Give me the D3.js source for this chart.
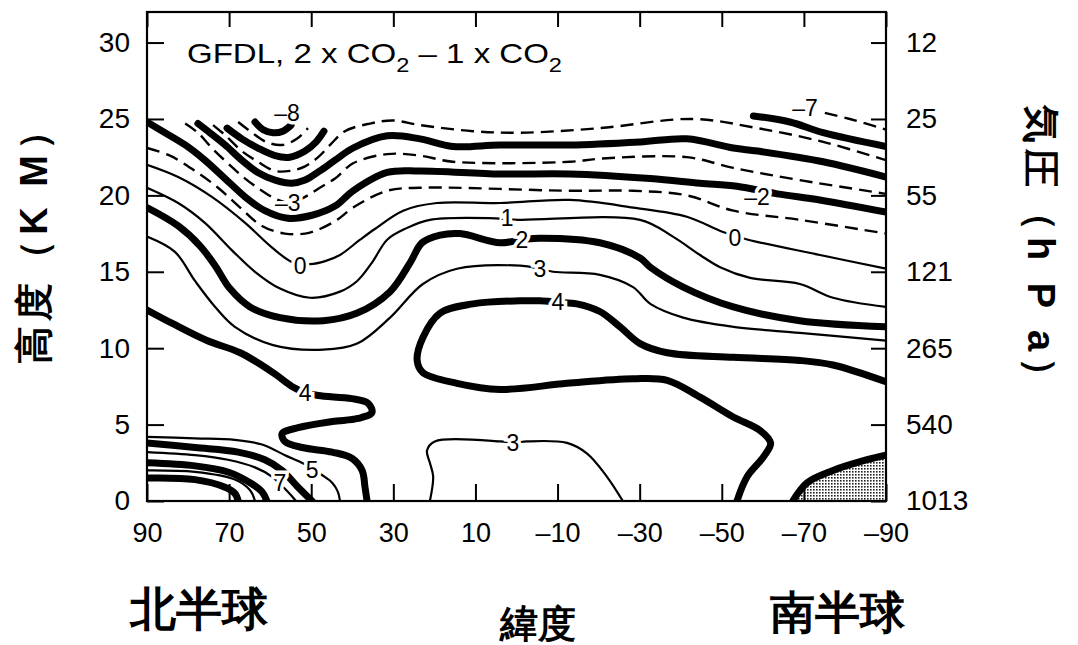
<!DOCTYPE html>
<html>
<head>
<meta charset="utf-8">
<script src="https://cdn.jsdelivr.net/npm/d3@7"></script>
<style>
  body { margin: 0; background: #fff; }
  svg text { font-family: "Liberation Sans", Arial, sans-serif; }
</style>
</head>
<body>
<div id="chart"></div>
<script>
// axis values
let latTicks = [90, 70, 50, 30, 10, -10, -30, -50, -70, -90]
let heightTicks = [0, 5, 10, 15, 20, 25, 30]
let pressureLabels = ["1013", "540", "265", "121", "55", "25", "12"]

// contour lines: [latitude, height (km)]
let cM8 = [[63.7,24.8],[61.7,24.3],[59.3,24.1],[56.9,24.2],[54.9,24.6]]
let cM7a = [[67.8,24.8],[64.4,24.1],[61.0,23.5],[57.1,23.3],[53.5,23.7],[50.8,24.4]]
let cM7b = [[-75.1,25.4],[-81.2,25.0],[-90,24.3]]
let cM6a = [[70.5,24.4],[66.9,23.7],[63.0,23.1],[58.8,22.6],[55.2,22.5],[51.5,22.9],[48.8,23.5],[46.9,24.2]]
let cM6b = [[-57.7,25.2],[-66.6,24.8],[-74.7,24.1],[-90,23.2]]
let cM5 = [[73.9,24.6],[70.8,23.9],[66.9,22.9],[63.0,22.2],[58.8,21.6],[55.2,21.6],[51.5,21.9],[48.3,22.5],
  [45.4,23.3],[41.8,24.2],[35.7,24.7],[30.1,24.9],[23.5,24.6],[10.6,24.2],[-0.9,24.1],[-20.3,24.4],
  [-43.0,25.0],[-58.7,24.4],[-74.7,23.5],[-90,22.3]]
let cM4 = [[77.6,24.7],[74.7,24.1],[71.0,23.3],[66.9,22.3],[63.0,21.5],[58.8,21.0],[54.7,20.8],[51.5,21.0],
  [47.9,21.6],[44.2,22.3],[39.8,23.1],[31.5,23.9],[23.5,23.7],[15.5,23.2],[4.0,23.3],[-13.0,23.3],
  [-30.1,23.5],[-41.5,23.7],[-52.8,23.1],[-58.7,22.9],[-74.7,22.2],[-90,21.2]]
let cM3 = [[80.7,24.7],[77.6,24.1],[74.2,23.1],[70.3,22.1],[66.1,21.1],[62.0,20.3],[58.1,19.7],[54.7,19.5],
  [51.5,19.9],[47.9,20.5],[44.2,21.1],[39.8,22.1],[31.5,22.7],[23.5,22.6],[15.5,22.2],[-13.0,22.2],
  [-20.3,22.4],[-41.5,22.5],[-52.8,21.8],[-69.0,21.0],[-90,20.1]]
let cM2 = [[90,24.8],[85.6,24.1],[80.7,23.3],[75.9,22.3],[71.0,21.1],[66.1,19.9],[61.3,19.0],[55.7,18.5],
  [49.8,18.7],[44.2,19.3],[39.8,20.3],[31.5,21.5],[23.5,21.6],[4.0,21.4],[-13.0,21.4],[-32.6,21.1],
  [-44.7,20.8],[-53.7,20.6],[-63.5,20.1],[-73.9,19.7],[-90,18.9]]
let cM1 = [[90,23.1],[84.4,22.6],[78.3,21.6],[72.7,20.5],[67.3,19.2],[62.0,18.0],[56.4,17.5],[51.5,17.5],
  [47.9,17.8],[43.7,18.4],[39.8,19.2],[31.5,20.3],[23.5,20.5],[-13.0,20.3],[-28.4,20.3],[-41.5,20.0],
  [-52.8,19.0],[-69.0,18.4],[-90,17.5]]
let c0 = [[90,22.0],[82.4,21.2],[74.2,19.9],[66.1,18.2],[59.6,16.6],[54.4,15.6],[50.3,15.5],[46.6,15.7],
  [43.0,16.1],[38.1,17.1],[34.5,17.8],[27.6,19.0],[19.4,19.5],[4.0,19.5],[-13.0,19.7],[-28.4,19.2],
  [-41.5,18.6],[-50.3,17.6],[-56.4,17.1],[-73.9,16.1],[-90,15.2]]
let c1 = [[90,20.5],[82.4,19.5],[75.9,18.2],[69.3,16.4],[63.7,15.0],[57.6,13.9],[50.3,13.3],[43.0,13.7],
  [38.8,14.4],[35.2,15.6],[31.5,17.1],[27.2,17.8],[21.1,18.4],[5.2,18.5],[-0.4,18.4],[-30.1,18.4],
  [-38.1,17.3],[-44.7,16.1],[-49.6,15.3],[-56.9,14.6],[-69.0,14.2],[-77.1,13.3],[-90,12.7]]
let c2 = [[90,19.2],[82.4,18.0],[77.1,16.7],[73.4,15.4],[69.8,13.9],[64.9,12.7],[57.6,12.0],[47.1,11.8],
  [38.8,12.3],[30.8,13.7],[25.9,15.6],[23.0,16.9],[18.6,17.4],[13.8,17.5],[4.0,16.9],[-1.3,17.1],
  [-5.7,17.2],[-20.3,16.9],[-30.1,15.9],[-32.6,15.3],[-40.6,14.0],[-52.8,12.7],[-69.0,11.8],[-90,11.4]]
let c3 = [[90,17.3],[83.2,16.3],[78.3,14.4],[73.4,12.7],[68.6,11.4],[59.3,10.2],[47.1,9.9],[38.8,10.3],
  [30.8,12.0],[22.8,14.2],[14.5,15.2],[-0.9,15.4],[-5.7,15.2],[-8.9,15.0],[-20.3,14.8],[-28.4,14.0],
  [-32.6,12.9],[-40.6,12.0],[-52.8,11.4],[-69.0,11.0],[-90,10.5]]
let c3b = [[21.1,0],[20.3,1.6],[21.1,2.5],[21.8,3.3],[19.9,3.9],[4.0,3.9],[0.9,3.8],[-2.6,3.9],
  [-12.3,3.8],[-17.2,3.1],[-22.0,1.6],[-25.9,0]]
let c4a = [[-90,7.8],[-77.1,8.9],[-69.0,9.2],[-52.8,9.4],[-36.7,9.7],[-30.1,10.3],[-25.2,11.4],[-20.3,12.4],
  [-14.7,12.9],[-10.1,13.0],[-5.7,13.1],[-0.9,13.1],[10.6,12.9],[18.6,12.3],[22.8,10.7],[24.2,9.2],
  [22.8,8.4],[14.5,7.7],[4.0,7.3],[-12.3,7.7],[-28.4,8.0],[-36.7,7.9],[-44.7,6.8],[-52.8,5.5],
  [-59.4,4.6],[-61.9,3.8],[-60.2,2.9],[-56.2,1.6],[-53.7,0]]
let c4b = [[90,12.5],[83.7,11.6],[75.4,10.5],[67.3,9.7],[59.3,8.4],[54.7,7.5],[51.5,7.1],[48.3,6.9],
  [40.1,6.7],[36.2,6.4],[35.2,5.8],[38.6,5.4],[44.9,5.2],[53.2,4.8],[57.1,4.4],[56.4,3.9],[52.2,3.5],
  [44.9,3.2],[40.1,2.8],[37.6,2.0],[36.9,0.9],[36.4,0]]
let c4c = [[-67.3,0],[-70.8,1.2],[-77.1,2.0],[-85.4,2.7],[-90,3.0]]
let c5 = [[90,4.2],[78.3,4.1],[68.6,4.0],[62.0,3.7],[56.4,3.0],[51.5,2.4],[47.4,1.7],[44.9,1.2],[43.5,0.6],[43.0,0]]
let c6 = [[90,3.8],[78.3,3.5],[67.8,3.2],[61.3,2.7],[57.1,2.0],[53.2,0.9],[49.8,0]]
let c7 = [[90,3.2],[78.3,3.0],[70.3,2.7],[63.7,2.2],[59.6,1.6],[55.7,0.6],[53.7,0]]
let c8 = [[90,2.5],[78.3,2.3],[70.3,1.9],[64.9,1.2],[62.0,0.6],[60.8,0]]
let c9 = [[90,2.0],[78.3,1.9],[68.6,1.4],[64.9,0.7],[63.7,0]]
let c10 = [[90,1.5],[78.3,1.4],[71.0,0.9],[68.6,0.5],[67.8,0]]

let contours = [
  {level: -8, pts: cM8}, {level: -7, pts: cM7a}, {level: -7, pts: cM7b},
  {level: -6, pts: cM6a}, {level: -6, pts: cM6b}, {level: -5, pts: cM5},
  {level: -4, pts: cM4}, {level: -3, pts: cM3}, {level: -2, pts: cM2},
  {level: -1, pts: cM1}, {level: 0, pts: c0}, {level: 1, pts: c1},
  {level: 2, pts: c2}, {level: 3, pts: c3}, {level: 3, pts: c3b},
  {level: 4, pts: c4a}, {level: 4, pts: c4b}, {level: 4, pts: c4c},
  {level: 5, pts: c5}, {level: 6, pts: c6}, {level: 7, pts: c7},
  {level: 8, pts: c8}, {level: 9, pts: c9}, {level: 10, pts: c10}
]

// contour labels: [text, latitude, height]
let contourLabels = [
  ["–8", 55.9, 25.4], ["–3", 55.7, 19.5], ["0", 52.7, 15.4], ["1", 2.3, 18.5],
  ["2", -1.3, 17.1], ["3", -5.7, 15.2], ["4", -10.1, 13.0], ["4", 51.5, 7.1],
  ["3", 0.9, 3.8], ["5", 49.8, 2.0], ["7", 57.6, 1.2], ["–7", -70.3, 25.7],
  ["–2", -58.6, 19.9], ["0", -53.2, 17.2]
]

let svg = d3.select("#chart").append("svg")
  .attr("width", 1078)
  .attr("height", 645)

let x = d3.scaleLinear().domain([90, -90]).range([147, 886])
let y = d3.scaleLinear().domain([0, 32]).range([501, 12])

let defs = svg.append("defs")
defs.append("clipPath").attr("id", "plot")
  .append("rect")
  .attr("x", x(90)).attr("y", y(32))
  .attr("width", x(-90) - x(90)).attr("height", y(0) - y(32))

let dots = defs.append("pattern")
  .attr("id", "dots")
  .attr("width", 3).attr("height", 3)
  .attr("patternUnits", "userSpaceOnUse")
dots.append("rect").attr("width", 3).attr("height", 3).attr("fill", "#fff")
dots.append("rect").attr("width", 1.6).attr("height", 1.6).attr("fill", "#222")

let plot = svg.append("g").attr("clip-path", "url(#plot)")

// shaded corner under the antarctic contour
let corner = c4c.concat([[-90, 0]])
plot.append("path")
  .attr("d", d3.line().x(d => x(d[0])).y(d => y(d[1]))(corner) + "Z")
  .attr("fill", "url(#dots)")

// odd negative levels dashed, even levels heavy, the rest thin
function lineStyle(level) {
  if (level < 0 && level % 2 !== 0) return {w: 2.4, dash: "13,7"}
  if (level !== 0 && level % 2 === 0) return {w: 7, dash: null}
  return {w: 2.2, dash: null}
}

let line = d3.line()
  .x(d => x(d[0]))
  .y(d => y(d[1]))
  .curve(d3.curveCatmullRom.alpha(0.5))

plot.selectAll(".contour")
  .data(contours)
  .enter()
  .append("path")
  .attr("class", "contour")
  .attr("d", d => line(d.pts))
  .attr("fill", "none")
  .attr("stroke", "#000")
  .attr("stroke-width", d => lineStyle(d.level).w)
  .attr("stroke-dasharray", d => lineStyle(d.level).dash)
  .attr("stroke-linecap", d => lineStyle(d.level).dash ? "butt" : "round")
  .attr("stroke-linejoin", "round")

plot.selectAll(".clabel")
  .data(contourLabels)
  .enter()
  .append("text")
  .attr("class", "clabel")
  .attr("x", d => x(d[1]))
  .attr("y", d => y(d[2]))
  .attr("text-anchor", "middle")
  .attr("dominant-baseline", "central")
  .attr("font-size", 23)
  .attr("fill", "#000")
  .attr("stroke", "#fff")
  .attr("stroke-width", 7)
  .attr("paint-order", "stroke")
  .text(d => d[0])

// frame
svg.append("rect")
  .attr("x", x(90)).attr("y", y(32))
  .attr("width", x(-90) - x(90)).attr("height", y(0) - y(32))
  .attr("fill", "none")
  .attr("stroke", "#000")
  .attr("stroke-width", 2.2)

function styleAxis(g, size) {
  g.select(".domain").remove()
  g.selectAll(".tick line").attr("stroke", "#000").attr("stroke-width", 2)
  g.selectAll(".tick text")
    .attr("fill", "#000")
    .attr("font-size", size)
    .attr("font-family", "'Liberation Sans', Arial, sans-serif")
}

let latFormat = d => d < 0 ? "–" + Math.abs(d) : String(d)

svg.append("g")
  .attr("transform", `translate(${x(90)},0)`)
  .call(d3.axisLeft(y).tickValues(heightTicks).tickSize(-17).tickPadding(17))
  .call(g => styleAxis(g, 28))

svg.append("g")
  .attr("transform", `translate(${x(-90)},0)`)
  .call(d3.axisRight(y).tickValues(heightTicks).tickSize(-15).tickPadding(20)
    .tickFormat((d, i) => pressureLabels[i]))
  .call(g => styleAxis(g, 28))

svg.append("g")
  .attr("transform", `translate(0,${y(0)})`)
  .call(d3.axisBottom(x).tickValues(latTicks).tickSize(-17).tickPadding(22).tickFormat(latFormat))
  .call(g => styleAxis(g, 27))

svg.append("g")
  .attr("transform", `translate(0,${y(32)})`)
  .call(d3.axisTop(x).tickValues(latTicks).tickSize(-15).tickFormat(""))
  .call(g => styleAxis(g, 27))

// title inside the plot
let title = svg.append("text")
  .attr("x", 187)
  .attr("y", 63)
  .attr("font-size", 28)
  .attr("textLength", 375)
  .attr("lengthAdjust", "spacingAndGlyphs")
title.append("tspan").text("GFDL, 2 x CO")
title.append("tspan").attr("font-size", 20).attr("dy", 9).text("2")
title.append("tspan").attr("dy", -9).text(" – 1 x CO")
title.append("tspan").attr("font-size", 20).attr("dy", 9).text("2")

// axis titles
svg.append("text")
  .attr("transform", "translate(47,238) rotate(-90)")
  .attr("text-anchor", "middle")
  .attr("font-size", 38)
  .attr("font-weight", "bold")
  .attr("font-family", "'Noto Sans CJK TC', sans-serif")
  .attr("textLength", 252)
  .attr("lengthAdjust", "spacing")
  .text("高度（K M）")

svg.append("text")
  .attr("transform", "translate(1028,250) rotate(90)")
  .attr("text-anchor", "middle")
  .attr("font-size", 38)
  .attr("font-weight", "bold")
  .attr("font-family", "'Noto Sans CJK JP', sans-serif")
  .attr("textLength", 290)
  .attr("lengthAdjust", "spacing")
  .text("気圧（h P a）")

let bottomTitles = [
  {text: "北半球", x: 130, y: 625, size: 46, anchor: "start"},
  {text: "緯度", x: 538, y: 637, size: 38, anchor: "middle"},
  {text: "南半球", x: 770, y: 628, size: 45, anchor: "start"}
]
svg.selectAll(".btitle")
  .data(bottomTitles)
  .enter()
  .append("text")
  .attr("class", "btitle")
  .attr("x", d => d.x)
  .attr("y", d => d.y)
  .attr("text-anchor", d => d.anchor)
  .attr("font-size", d => d.size)
  .attr("font-weight", "bold")
  .attr("font-family", "'Noto Sans CJK TC', sans-serif")
  .text(d => d.text)
</script>
</body>
</html>
